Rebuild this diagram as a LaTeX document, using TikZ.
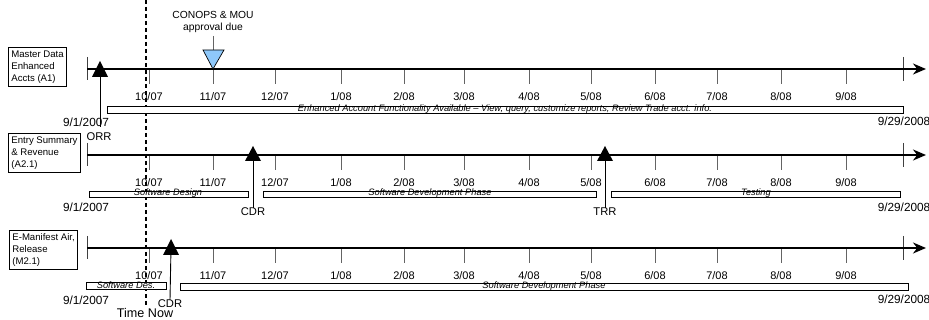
\documentclass[tikz,border=0pt]{standalone}
\usepackage{fontspec}
\setmainfont{Liberation Sans}
\usetikzlibrary{arrows.meta,calc}
\definecolor{msblue}{RGB}{142,200,250}
\definecolor{tickgray}{RGB}{100,100,100}
\tikzset{
  timeline/.style={line width=2.6pt,-{Stealth[length=13pt,width=11pt]}},
  endtick/.style={line width=1pt,draw=black!75},
  monthtick/.style={line width=1pt,draw=tickgray},
  monthlbl/.style={font=\fontsize{11}{12}\selectfont,inner sep=0pt},
  datelbl/.style={font=\fontsize{11.8}{12}\selectfont,inner sep=0pt},
  mslbl/.style={font=\fontsize{11.2}{12}\selectfont,inner sep=0pt},
  rowbox/.style={draw,line width=0.8pt,align=left,anchor=north west,inner sep=3pt,font=\fontsize{9.6}{12}\selectfont},
  phasebar/.style={draw,line width=0.8pt,fill=white},
  phasetxt/.style={font=\fontsize{9.3}{9}\selectfont\itshape,inner sep=0pt},
  msline/.style={line width=0.9pt},
  mstri/.style={fill=black},
}
\begin{document}
\begin{tikzpicture}[x=1pt,y=-1pt]
\useasboundingbox (0,0) rectangle (929,320);
% time-now dashed line
\draw[line width=1.4pt,dash pattern=on 4pt off 3pt] (146,0) -- (146,306);
\node[font=\fontsize{12.6}{13}\selectfont,inner sep=0pt] (tnow) at (145,313) {Time Now};

% ---------- generic month ticks ----------
\foreach \row/\yy in {1/69,2/155,3/248}{
  \foreach \xx/\lab in {149/10\slash 07,213/11\slash 07,275/12\slash 07,341/1\slash 08,404/2\slash 08,464/3\slash 08,529/4\slash 08,591/5\slash 08,655/6\slash 08,717/7\slash 08,781/8\slash 08,846/9\slash 08}{
    \draw[monthtick] (\xx,\yy) -- (\xx,\yy+15);
    \node[monthlbl] at (\xx,\yy+28) {\lab};
  }
  \draw[endtick] (87,\yy-12) -- (87,\yy+11);
  \draw[endtick] (903,\yy-12) -- (903,\yy+12);
  \draw[timeline] (87,\yy) -- (926,\yy);
}

% ---------- Row 1 ----------
\node[rowbox] (b1) at (8,47) {Master Data\\Enhanced\\Accts (A1)};
\node[datelbl] (s1) at (86,122) {9/1/2007};
\node[datelbl] (e1) at (904,121) {9/29/2008};
\draw[phasebar] (107,106) rectangle (903,113);
\node[phasetxt] (p1) at (505,109.5) {Enhanced Account Functionality Available -- View, query, customize reports; Review Trade acct. info.};
\coordinate (orr) at (100,69);
\node[mslbl] (orrl) at (99,137) {ORR};
\draw[msline] (orr) -- (100,127);
\fill[mstri] (100,61) -- (108,77) -- (92,77) -- cycle;
% CONOPS
\node[font=\fontsize{10.3}{12}\selectfont,align=center,inner sep=0pt] (conops) at (213,22) {CONOPS \& MOU\\approval due};
\coordinate (cmou) at (213,69);
\draw[line width=1pt,draw=tickgray] (conops.south) ++(0,3) -- (213,50);
\draw[line width=0.7pt,fill=msblue] (203,50) -- (224,50) -- (cmou) -- cycle;

% ---------- Row 2 ----------
\node[rowbox] (b2) at (8,133) {Entry Summary\\\& Revenue\\(A2.1)};
\node[datelbl] (s2) at (86,207) {9/1/2007};
\node[datelbl] (e2) at (904,207) {9/29/2008};
\draw[phasebar] (89,191) rectangle (248,197);
\node[phasetxt] (p2a) at (168,193.5) {Software Design};
\draw[phasebar] (263,191) rectangle (596,197);
\node[phasetxt] (p2b) at (430,193.5) {Software Development Phase};
\draw[phasebar] (611,191) rectangle (900,197);
\node[phasetxt] (p2c) at (756,193.5) {Testing};
\coordinate (cdr2) at (253,155);
\node[mslbl] (cdr2l) at (253,212) {CDR};
\draw[msline] (cdr2) -- (cdr2l.north);
\fill[mstri] (253,146) -- (261,161) -- (245,161) -- cycle;
\coordinate (trr) at (605,155);
\node[mslbl] (trrl) at (605,212) {TRR};
\draw[msline] (trr) -- (trrl.north);
\fill[mstri] (605,146) -- (613,161) -- (597,161) -- cycle;

% ---------- Row 3 ----------
\node[rowbox] (b3) at (9,230) {E-Manifest Air,\\Release\\(M2.1)};
\node[datelbl] (s3) at (86,300) {9/1/2007};
\node[datelbl] (e3) at (904,299) {9/29/2008};
\draw[phasebar] (86,282) rectangle (166,289);
\node[phasetxt] (p3a) at (126,285) {Software Des.};
\draw[phasebar] (180,283) rectangle (908,290);
\node[phasetxt] (p3b) at (544,286) {Software Development Phase};
\coordinate (cdr3) at (171,248);
\node[mslbl] (cdr3l) at (170,304) {CDR};
\draw[msline] (cdr3) -- (cdr3l.north);
\fill[mstri] (171,239) -- (179,255) -- (163,255) -- cycle;
\end{tikzpicture}
\end{document}
